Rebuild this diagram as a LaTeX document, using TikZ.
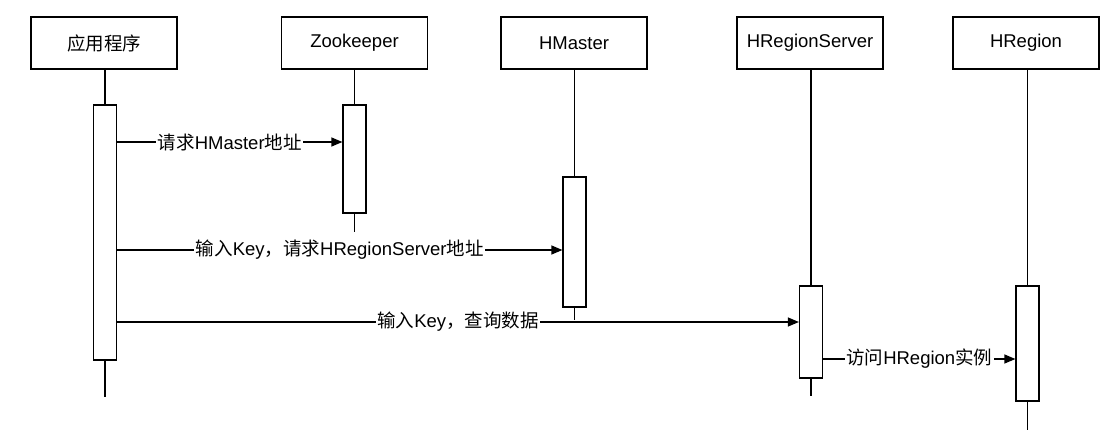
\documentclass[tikz,border=0pt]{standalone}
\usepackage{fontspec}
\setmainfont{Liberation Sans}
\newfontfamily\cjk{Noto Sans CJK SC}
\newcommand\zh[1]{{\cjk #1}}
\usetikzlibrary{arrows.meta, positioning}

\begin{document}
\begin{tikzpicture}[x=1pt, y=-1pt, line width=1.2pt,
    font=\fontsize{18.5}{22}\selectfont,
    head/.style={draw, minimum width=146pt, minimum height=52pt, inner sep=0pt},
    bar/.style={draw, fill=white, minimum width=23pt, inner sep=0pt},
    msg/.style={-{Triangle[length=11pt,width=9pt]}},
    lbl/.style={fill=white, inner xsep=1.5pt, inner ysep=0pt}]
    \useasboundingbox (0,0) rectangle (1112,442);
    % lifeline heads
    \node[head] (app) at (104,43) {\zh{应用程序}};
    \node[head] (zk) at (354.5,43) {Zookeeper};
    \node[head] (hm) at (574,43) {HMaster};
    \node[head] (hrs) at (810,43) {HRegionServer};
    \node[head] (hr) at (1026,43) {HRegion};
    % activation bars
    \node[bar, minimum height=255pt] (appbar) at (105,232.5) {};
    \node[bar, minimum height=108pt] (zkbar) at (354.5,159) {};
    \node[bar, minimum height=130pt] (hmbar) at (574.5,242) {};
    \node[bar, minimum height=92pt] (hrsbar) at (811,332) {};
    \node[bar, minimum height=115pt] (hrbar) at (1027.5,343.5) {};
    % lifeline ends
    \coordinate (append) at (105,397);
    \coordinate (zkend) at (354.5,232);
    \coordinate (hmend) at (574.5,320);
    \coordinate (hrsend) at (811,396);
    \coordinate (hrend) at (1027.5,430);
    % lifelines
    \draw (app.south -| appbar) -- (appbar) (appbar) -- (append);
    \draw (zk) -- (zkbar) (zkbar) -- (zkend);
    \draw (hm.south -| hmbar) -- (hmbar) (hmbar) -- (hmend);
    \draw (hrs.south -| hrsbar) -- (hrsbar) (hrsbar) -- (hrsend);
    \draw (hr.south -| hrbar) -- (hrbar) (hrbar) -- (hrend);
    % message rows
    \coordinate (r1) at (0,142);
    \coordinate (r2) at (0,250);
    \coordinate (r3) at (0,322);
    \coordinate (r4) at (0,359);
    % messages
    \draw[msg] (appbar.east |- r1) -- node[lbl] {\zh{请求}HMaster\zh{地址}} (zkbar.west |- r1);
    \draw[msg] (appbar.east |- r2) -- node[lbl] {\zh{输入}Key\zh{，请求}HRegionServer\zh{地址}} (hmbar.west |- r2);
    \draw[msg] (appbar.east |- r3) -- node[lbl] {\zh{输入}Key\zh{，查询数据}} (hrsbar.west |- r3);
    \draw[msg] (hrsbar.east |- r4) -- node[lbl] {\zh{访问}HRegion\zh{实例}} (hrbar.west |- r4);
\end{tikzpicture}
\end{document}
